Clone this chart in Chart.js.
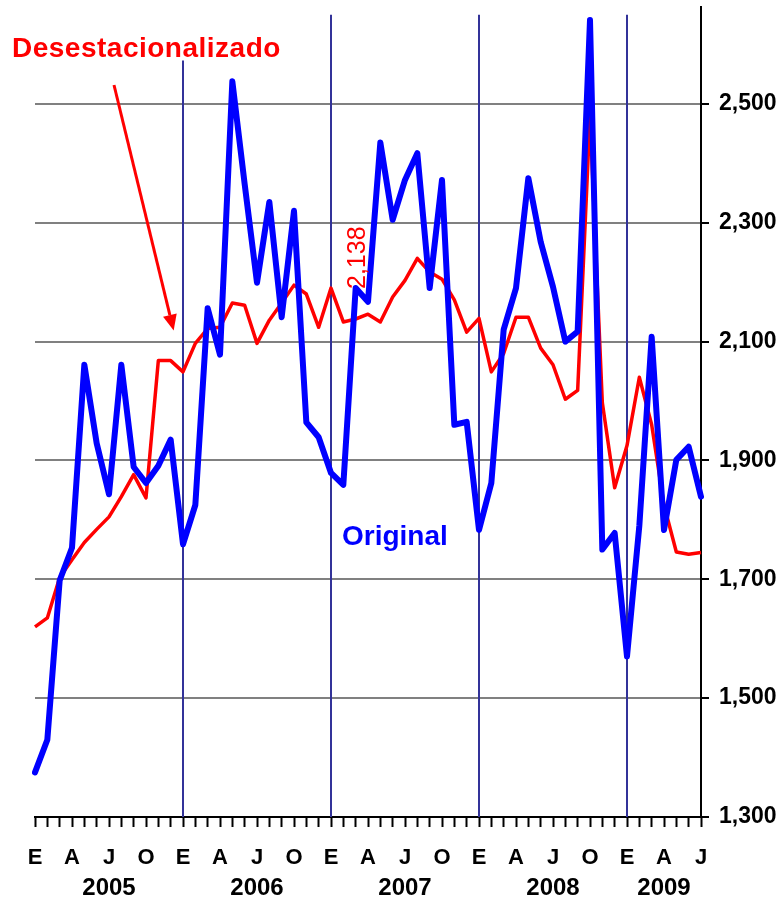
<!DOCTYPE html>
<html>
<head>
<meta charset="utf-8">
<script src="https://cdn.jsdelivr.net/npm/chart.js@4.4.1/dist/chart.umd.min.js"></script>
<style>
body{margin:0;background:#fff;}
canvas{display:block;}
</style>
</head>
<body>
<canvas id="grafica" width="784" height="900"></canvas>
<script>
// datos mensuales ene-2005 a jul-2009
var anios = ['2005','2006','2007','2008','2009'];
var letrasMes = ['E','F','M','A','M','J','J','A','S','O','N','D'];
var original = [1375,1430,1698,1753,2061,1929,1843,2061,1889,1862,
                1891,1935,1759,1825,2156,2078,2538,2365,2199,2335,
                2141,2320,1964,1939,1879,1859,2190,2167,2435,2305,
                2372,2417,2190,2372,1960,1965,1783,1862,2120,2190,
                2375,2268,2192,2100,2117,2641,1750,1778,1570,1790,
                2108,1783,1901,1923,1839];
var desestacionalizado = [1620,1635,1703,1733,1762,1784,1805,1839,1876,1837,
                2068,2068,2049,2097,2122,2124,2165,2161,2097,2136,
                2165,2195,2180,2124,2190,2133,2138,2146,2133,2175,
                2203,2240,2217,2205,2170,2116,2139,2049,2080,2141,
                2141,2089,2061,2003,2018,2480,1997,1854,1925,2040,
                1960,1825,1746,1742,1745];
var ticksY = [1300,1500,1700,1900,2100,2300,2500];
var mesMarcado = 26; // ene-2007 + 2 -> mar-2007, etiqueta 2,138

var fuente = '"Liberation Sans", Arial, sans-serif';
Chart.defaults.font.family = fuente;

// categorias: mes-anio
var categorias = [], mesDe = [], anioDe = [];
for (var a = 0; a < anios.length; a++) {
    for (var m = 0; m < 12; m++) {
        if (categorias.length >= original.length) break;
        categorias.push(letrasMes[m] + '-' + anios[a]);
        mesDe.push(m);
        anioDe.push(a);
    }
}
var centroAnio = {};
anios.forEach(function(an, a){
    var first = anioDe.indexOf(a), last = anioDe.lastIndexOf(a);
    if (first >= 0) centroAnio[Math.floor((first + last + 1) / 2)] = an;
});
var eneros = [];
mesDe.forEach(function(m, i){ if (m === 0 && i > 0) eneros.push(i); });

var anotaciones = {
    id: 'anotaciones',
    beforeDatasetsDraw: function(chart){
        var ctx = chart.ctx, x = chart.scales.x, y = chart.scales.y;
        ctx.save();
        ctx.strokeStyle = '#333399';
        ctx.lineWidth = 2;
        eneros.forEach(function(i, k){
            var px = x.getPixelForValue(i);
            ctx.beginPath();
            ctx.moveTo(px, y.getPixelForValue(k === 0 ? 2573 : 2650));
            ctx.lineTo(px, chart.chartArea.bottom);
            ctx.stroke();
        });
        ctx.restore();
    },
    afterDatasetsDraw: function(chart){
        var ctx = chart.ctx, x = chart.scales.x, y = chart.scales.y;
        ctx.save();
        ctx.textAlign = 'left';
        ctx.textBaseline = 'alphabetic';

        ctx.fillStyle = '#ff0000';
        ctx.font = 'bold 28px ' + fuente;
        ctx.letterSpacing = '0.5px';
        ctx.fillText('Desestacionalizado', 12, 57);
        ctx.letterSpacing = '0px';

        // flecha hacia la serie desestacionalizada
        var sx = 114, sy = 85;
        var tx = x.getPixelForValue(11) + 3, ty = y.getPixelForValue(desestacionalizado[11]) - 30;
        var dx = tx - sx, dy = ty - sy, len = Math.sqrt(dx*dx + dy*dy);
        var ux = dx/len, uy = dy/len, hl = 16, hw = 7;
        ctx.strokeStyle = '#ff0000';
        ctx.lineWidth = 3;
        ctx.beginPath();
        ctx.moveTo(sx, sy);
        ctx.lineTo(tx - ux*hl, ty - uy*hl);
        ctx.stroke();
        ctx.beginPath();
        ctx.moveTo(tx, ty);
        ctx.lineTo(tx - ux*hl - uy*hw, ty - uy*hl + ux*hw);
        ctx.lineTo(tx - ux*hl + uy*hw, ty - uy*hl - ux*hw);
        ctx.closePath();
        ctx.fill();

        // etiqueta del dato
        var valor = desestacionalizado[mesMarcado];
        var lx = x.getPixelForValue(mesMarcado) + 9, ly = y.getPixelForValue(valor) - 30;
        ctx.save();
        ctx.font = '25px ' + fuente;
        ctx.translate(lx, ly);
        ctx.rotate(-Math.PI/2);
        ctx.fillText(valor.toLocaleString('en-US'), 0, 0);
        ctx.restore();

        ctx.fillStyle = '#0000ff';
        ctx.font = 'bold 28px ' + fuente;
        ctx.fillText('Original', 342, 545);
        ctx.restore();
    }
};

new Chart(document.getElementById('grafica'), {
    type: 'line',
    data: {
        labels: categorias,
        datasets: [{
            label: 'Original',
            data: original,
            borderColor: '#0000ff',
            borderWidth: 6,
            borderJoinStyle: 'round',
            borderCapStyle: 'round'
        }, {
            label: 'Desestacionalizado',
            data: desestacionalizado,
            borderColor: '#ff0000',
            borderWidth: 3.5,
            borderJoinStyle: 'round'
        }]
    },
    options: {
        responsive: false,
        animation: false,
        devicePixelRatio: 1,
        layout: {padding: {top: 7, left: 35, right: 0, bottom: 0}},
        plugins: {legend: {display: false}, tooltip: {enabled: false}},
        elements: {point: {radius: 0}, line: {tension: 0}},
        scales: {
            x: {
                type: 'category',
                offset: false,
                grid: {drawOnChartArea: false, drawTicks: true, tickLength: 10, tickColor: '#000', tickWidth: 2, color: '#000'},
                border: {display: true, color: '#000', width: 2},
                ticks: {
                    autoSkip: false, maxRotation: 0, minRotation: 0, padding: 18,
                    color: '#000', font: {size: 22, weight: 'bold'},
                    callback: function(v, i){ return mesDe[i] % 3 === 0 ? letrasMes[mesDe[i]] : ''; }
                },
                afterFit: function(s){ s.height = 50; s.paddingLeft = 0; s.paddingRight = 0; }
            },
            x2: {
                type: 'category',
                position: 'bottom',
                offset: false,
                grid: {display: false, drawTicks: false},
                border: {display: false},
                ticks: {
                    autoSkip: false, maxRotation: 0, minRotation: 0, padding: 7,
                    color: '#000', font: {size: 24, weight: 'bold'},
                    callback: function(v, i){ return centroAnio[i] || ''; }
                },
                afterFit: function(s){ s.height = 33; s.paddingLeft = 0; s.paddingRight = 0; }
            },
            y: {
                position: 'right',
                min: 1300,
                max: 2663,
                afterBuildTicks: function(s){ s.ticks = ticksY.map(function(v){ return {value: v}; }); },
                grid: {
                    color: function(c){ return c.tick && c.tick.value === 1300 ? 'rgba(0,0,0,0)' : '#808080'; },
                    lineWidth: 2, tickColor: '#000', tickWidth: 2, tickLength: 8
                },
                border: {color: '#000', width: 2},
                ticks: {
                    padding: 10, color: '#000', font: {size: 23, weight: 'bold'},
                    callback: function(v){ return v.toLocaleString('en-US'); }
                },
                afterFit: function(s){ s.width = 83; s.paddingTop = 0; s.paddingBottom = 0; }
            }
        }
    },
    plugins: [anotaciones]
});
</script>
</body>
</html>
